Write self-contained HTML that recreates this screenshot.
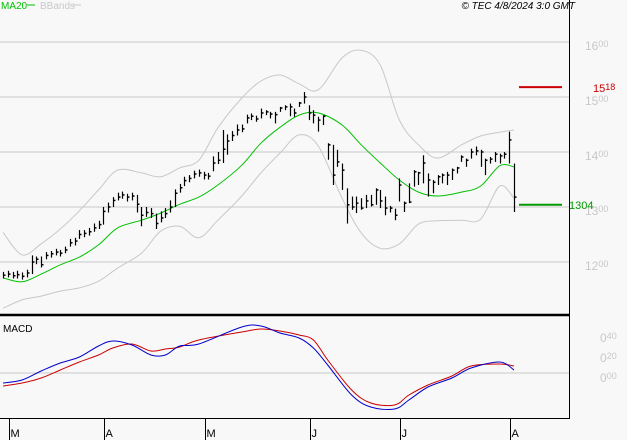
<!DOCTYPE html>
<html><head><meta charset="utf-8"><style>
html,body{margin:0;padding:0;background:#f8f8f8;}
svg{display:block;font-family:"Liberation Sans",sans-serif;}
</style></head><body>
<svg id="chart" width="627" height="440" viewBox="0 0 627 440" xmlns="http://www.w3.org/2000/svg">
<rect x="0" y="0" width="627" height="440" fill="#f8f8f8"/>
<g id="grid"></g>
<g id="bands"></g>
<g id="ma"></g>
<g id="bars"></g>
<g id="macd"></g>
<g id="axes"></g>
<text x="1" y="9" font-size="10" fill="#00c000">MA20</text>
<line x1="27" y1="5" x2="35" y2="5" stroke="#00c000"/>
<text x="40" y="9" font-size="10" fill="#c8c8c8">BBands</text>
<line x1="73" y1="5" x2="81" y2="5" stroke="#c8c8c8"/>
<text x="575" y="9" font-size="10" font-style="italic" text-anchor="end" fill="#000">© TEC 4/8/2024 3:0 GMT</text>
<text x="3" y="332" font-size="10" fill="#000">MACD</text>
</svg>
<script>
const closes=[1176,1178,1175,1177,1174,1180,1200,1205,1195,1212,1215,1218,1216,1222,1235,1238,1250,1252,1255,1262,1268,1292,1300,1312,1318,1322,1318,1320,1305,1285,1290,1288,1270,1280,1288,1300,1325,1335,1348,1352,1360,1362,1358,1356,1380,1385,1405,1420,1430,1440,1442,1462,1465,1460,
1471,1473,1469,1468,1480,1482,1482,1471,1489,1500,1471,1467,1458,1465,1413,1358,1382,1367,1304,1300,1307,1298,1311,1304,1331,1311,1298,
1298,1285,1340,1307,1309,1364,1362,1380,1349,1345,1355,1358,1358,1367,1371,1391,1385,1400,1402,1400,1385,1387,1396,1393,1396,1422,1318];
const highs=[1182,1184,1182,1184,1181,1186,1212,1210,1210,1218,1220,1224,1222,1228,1242,1244,1258,1258,1262,1270,1275,1300,1308,1318,1326,1328,1324,1326,1322,1300,1300,1298,1288,1292,1298,1312,1332,1342,1355,1358,1366,1368,1364,1362,1392,1400,1440,1432,1438,1450,1450,1468,1470,1466,
1479,1476,1473,1473,1482,1485,1488,1479,1491,1509,1485,1476,1464,1467,1416,1413,1404,1379,1334,1319,1319,1316,1322,1322,1334,1331,1319,
1302,1297,1352,1310,1343,1367,1364,1394,1361,1349,1358,1361,1364,1370,1373,1394,1388,1406,1410,1404,1388,1391,1400,1397,1400,1437,1379];
const lows=[1170,1172,1170,1170,1168,1172,1178,1196,1190,1205,1208,1212,1210,1216,1228,1230,1242,1245,1248,1255,1260,1268,1290,1300,1312,1315,1310,1312,1290,1265,1282,1280,1260,1272,1280,1290,1300,1326,1338,1345,1352,1355,1350,1350,1365,1378,1380,1395,1420,1430,1436,1452,1458,1455,
1461,1467,1461,1452,1473,1476,1465,1464,1482,1488,1458,1452,1437,1449,1386,1340,1373,1331,1270,1295,1289,1295,1298,1301,1304,1298,1285,
1290,1276,1310,1291,1307,1337,1340,1343,1319,1325,1340,1343,1340,1349,1361,1382,1373,1388,1394,1373,1358,1379,1382,1379,1388,1379,1291];
const maIdx=[0,4,8,12,16,20,24,29,33,37,41,45,50,54,58,62,66,71,75,79,83,87,91,96,100,104,107];
const maVals=[1171,1164,1178,1195,1209,1231,1262,1276,1289,1305,1318,1340,1376,1416,1445,1467,1471,1449,1413,1380,1349,1327,1320,1327,1338,1375,1373];
const upVals=[1254,1213,1233,1260,1293,1331,1367,1362,1355,1371,1385,1444,1498,1529,1540,1524,1513,1571,1585,1558,1458,1413,1389,1413,1429,1436,1440];
const loVals=[1116,1131,1138,1147,1153,1165,1189,1216,1256,1265,1244,1276,1320,1362,1398,1431,1411,1316,1253,1225,1233,1269,1275,1276,1278,1338,1316];
const macdIdx=[0,4,8,12,16,20,23,27,31,34,37,41,50,54,58,62,65,68,73,77,82,85,89,94,98,104,107];
const macdVals=[-0.10,-0.07,0.02,0.10,0.16,0.27,0.32,0.28,0.18,0.18,0.27,0.29,0.46,0.47,0.40,0.35,0.25,0.08,-0.22,-0.34,-0.36,-0.27,-0.14,-0.05,0.05,0.11,0.03];
const sigVals=[-0.13,-0.10,-0.05,0.03,0.11,0.18,0.25,0.29,0.22,0.24,0.26,0.33,0.41,0.44,0.42,0.38,0.33,0.13,-0.17,-0.30,-0.32,-0.22,-0.12,-0.03,0.07,0.09,0.07];
const priceTicks=[1200,1300,1400,1500,1600];
const macdTicks=[0,0.2,0.4];
const monthLabels=["M","A","M","J","J","A"];
const monthIdx=[1,21,42,64,83,106];
const target=1518, support=1304;

const NS="http://www.w3.org/2000/svg";
const n=closes.length;
const xOf=i=>3+i*(511/(n-1));
const yP=p=>262-(p-1200)*0.55;
const yM=v=>373-v*100;
function mk(tag,attrs,parent){const e=document.createElementNS(NS,tag);for(const k in attrs)e.setAttribute(k,attrs[k]);document.getElementById(parent).appendChild(e);return e;}

priceTicks.forEach(t=>{
  const l=mk('line',{x1:0,x2:569,y1:yP(t),y2:yP(t),stroke:'#c8c8c8'},'grid');
  
  
  const s=String(t);
  const tx=mk('text',{x:585,y:yP(t)+8,'font-size':12,fill:'#c8c8c8'},'axes');
  
  
  tx.innerHTML=s.slice(0,2)+'<tspan font-size="9" dy="-3">'+s.slice(2)+'</tspan>';
});
macdTicks.forEach(t=>{
  if(t===0){const l=mk('line',{x1:0,x2:569,y1:yM(0),y2:yM(0),stroke:'#c8c8c8'},'grid');
  
  }
  const tx=mk('text',{x:600,y:yM(t)+9,'font-size':12,fill:'#c8c8c8'},'axes');
  
  
  tx.innerHTML='0<tspan font-size="9" dy="-3">'+t.toFixed(2).slice(2)+'</tspan>';
});
function pathFrom(idx,vals,yf){
  const pts=idx.map((i,k)=>[xOf(i),yf(vals[k])]);
  let d='M'+pts[0][0].toFixed(1)+','+pts[0][1].toFixed(1);
  for(let k=0;k<pts.length-1;k++){
    const p0=pts[Math.max(0,k-1)],p1=pts[k],p2=pts[k+1],p3=pts[Math.min(pts.length-1,k+2)];
    const c1=[p1[0]+(p2[0]-p0[0])/6,p1[1]+(p2[1]-p0[1])/6];
    const c2=[p2[0]-(p3[0]-p1[0])/6,p2[1]-(p3[1]-p1[1])/6];
    d+='C'+c1[0].toFixed(1)+','+c1[1].toFixed(1)+' '+c2[0].toFixed(1)+','+c2[1].toFixed(1)+' '+p2[0].toFixed(1)+','+p2[1].toFixed(1);
  }
  return d;
}
[upVals,loVals].forEach(v=>{
  const p=mk('path',{d:pathFrom(maIdx,v,yP),fill:'none',stroke:'#c8c8c8','stroke-width':1},'bands');
  
  
});
const mp=mk('path',{d:pathFrom(maIdx,maVals,yP),fill:'none',stroke:'#00c000','stroke-width':1},'ma');


closes.forEach((c,i)=>{
  const x=Math.round(xOf(i))+0.5;
  const l=mk('line',{x1:x,x2:x,y1:yP(highs[i]),y2:yP(lows[i]),stroke:'#000','stroke-width':1.2},'bars');
  
  
  const t=mk('line',{x1:x,x2:x+2,y1:yP(c),y2:yP(c),stroke:'#000','stroke-width':1.5},'bars');
  
  
});
const rl=mk('line',{x1:519,x2:562,y1:yP(target),y2:yP(target),stroke:'#cc0000','stroke-width':2},'axes');


const rt=mk('text',{x:593,y:yP(target)+5,'font-size':11,fill:'#cc0000'},'axes');


rt.innerHTML='15<tspan font-size="9" dy="-2">18</tspan>';
const gl=mk('line',{x1:519,x2:562,y1:yP(support),y2:yP(support),stroke:'#009900','stroke-width':2},'axes');


const gt=mk('text',{x:569,y:yP(support)+4,'font-size':11,fill:'#009900'},'axes');


gt.textContent=String(support);
const sp=mk('path',{d:pathFrom(macdIdx,sigVals,yM),fill:'none',stroke:'#cc0000','stroke-width':1},'macd');


const bp=mk('path',{d:pathFrom(macdIdx,macdVals,yM),fill:'none',stroke:'#0000cc','stroke-width':1},'macd');


[[569.5,0,569.5,419],[0,315,570,315],[0,418.5,570,418.5]].forEach((a,k)=>{
  const l=mk('line',{x1:a[0],y1:a[1],x2:a[2],y2:a[3],stroke:'#000','stroke-width':k===1?2.5:1},'axes');
  
  
});
monthLabels.forEach((m,k)=>{
  const x=Math.round(xOf(monthIdx[k])+1)+0.5;
  const l=mk('line',{x1:x,x2:x,y1:419,y2:440,stroke:'#000'},'axes');
  
  
  const t=mk('text',{x:x+1,y:437,'font-size':11,fill:'#000'},'axes');
  
  
  t.textContent=m;
});
</script>
</body></html>
